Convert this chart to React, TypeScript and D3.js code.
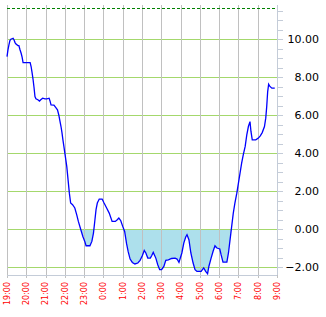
import React from "react";
import * as d3 from "d3";

// minutes after 19:00
const minutes = [0,3,6,9,12,19,22,25,28,34,37,40,44,47,50,72,75,78,81,84,87,90,96,101,105,111,118,124,131,134,137,146,152,157,161,164,168,171,174,177,180,
186,190,194,198,204,211,217,222,229,236,242,246,258,264,269,273,277,281,287,296,302,310,318,327,337,343,348,354,360,366,
372,377,383,390,398,407,414,421,427,432,438,446,450,455,463,469,475,481,488,494,502,512,523,529,535,544,550,556,560,566,572,579,585,591,604,612,618,624,628,635,641,647,653,662,666,672,684,689,694,699,
704,709,715,720,725,730,735,741,746,751,756,759,763,774,782,788,794,801,805,808,811,814,818,824,833];
const values = [9.08,9.44,9.70,9.93,10.0,10.05,9.96,9.82,9.74,9.66,9.66,9.47,9.26,9.05,8.77,8.77,8.56,8.24,7.89,7.47,6.98,6.86,6.81,6.74,6.81,6.89,6.86,6.86,6.89,6.74,6.54,6.53,6.40,6.28,6.02,5.75,5.40,5.08,4.70,4.35,4.00,
3.29,2.59,1.89,1.37,1.28,1.11,0.75,0.40,0.0,-0.39,-0.65,-0.88,-0.88,-0.65,-0.21,0.40,1.02,1.37,1.58,1.58,1.37,1.11,0.84,0.40,0.40,0.49,0.58,0.44,0.14,-0.13,
-0.77,-1.19,-1.58,-1.76,-1.84,-1.79,-1.65,-1.41,-1.13,-1.26,-1.53,-1.53,-1.41,-1.23,-1.53,-1.88,-2.14,-2.14,-1.97,-1.65,-1.62,-1.55,-1.53,-1.58,-1.76,-1.26,-0.74,-0.42,-0.30,-0.56,-1.26,-1.79,-2.14,-2.23,-2.23,-2.05,-2.23,-2.35,-1.97,-1.53,-1.18,-0.88,-1.00,-1.05,-1.35,-1.74,-1.74,-1.26,-0.56,0.14,
0.84,1.37,1.89,2.42,2.95,3.47,3.91,4.35,4.96,5.40,5.66,5.14,4.70,4.70,4.79,4.91,5.08,5.40,5.84,6.45,7.24,7.63,7.51,7.42,7.42];

const hourLabels = ["19:00","20:00","21:00","22:00","23:00","0:00","1:00","2:00","3:00","4:00","5:00","6:00","7:00","8:00","9:00"];
const yTickValues = [-2,0,2,4,6,8,10];
const thresholdValue = 11.65;

export default function App() {
  const W = 326, H = 317;
  const left = 7, right = 277, top = 5, bottom = 275;
  const x = d3.scaleLinear().domain([0, 14 * 60]).range([left, right]);
  const y = d3.scaleLinear().domain([-2.42, 11.8]).range([bottom, top]);
  const px = (v: number) => Math.round(v) + 0.5;
  const data = minutes.map((m, i) => ({ m, v: values[i] }));
  const line = d3.line<{ m: number; v: number }>().x(d => x(d.m)).y(d => y(d.v));
  const area = d3.area<{ m: number; v: number }>().x(d => x(d.m)).y0(y(0)).y1(d => y(d.v));
  const minorTicks = d3.range(-2, 11.51, 0.5);
  const fmt = d3.format(".2f");
  return (
    <svg width={W} height={H} style={{ position: "absolute", left: 0, top: 0, background: "#fff" }}>
      <defs>
        <clipPath id="below0">
          <rect x={left} y={y(0)} width={right - left} height={bottom - y(0)} />
        </clipPath>
      </defs>
      <rect x={0} y={0} width={W} height={H} fill="#ffffff" />
      <path d={area(data) || ""} fill="#ade0ec" clipPath="url(#below0)" />
      {yTickValues.map(v => (
        <rect key={"hg" + v} x={left} y={Math.round(y(v))} width={right - left} height={1} fill="#a4d86c" />
      ))}
      {hourLabels.map((h, i) => (
        <rect key={"vg" + i} x={Math.round(x(i * 60))} y={top} width={1} height={bottom + 3 - top} fill="#c0c0c0" />
      ))}
      <line x1={left} x2={right} y1={px(y(thresholdValue))} y2={px(y(thresholdValue))} stroke="#008000" strokeWidth={1} strokeDasharray="3,2" />
      <rect x={left} y={bottom} width={right - left} height={1} fill="#c4ccd8" />
      <rect x={right} y={top} width={1} height={bottom - top} fill="#c4ccd8" />
      {minorTicks.map(v => (
        <rect key={"mt" + v} x={right} y={Math.round(y(v))} width={6} height={1} fill="#c4ccd8" />
      ))}
      <path d={line(data) || ""} fill="none" stroke="#0000ff" strokeWidth={1.3} />
      {yTickValues.map(v => (
        <text key={"yl" + v} x={319} y={y(v)} dy="0.35em" textAnchor="end" fontFamily="DejaVu Sans" fontSize={11} fill="#000">{fmt(v)}</text>
      ))}
      {hourLabels.map((h, i) => (
        <text key={"xl" + i} transform={`translate(${x(i * 60)},282) rotate(-90)`} dy="0.35em" textAnchor="end" fontFamily="DejaVu Sans" fontSize={8} fill="#ff0000">{h}</text>
      ))}
    </svg>
  );
}
